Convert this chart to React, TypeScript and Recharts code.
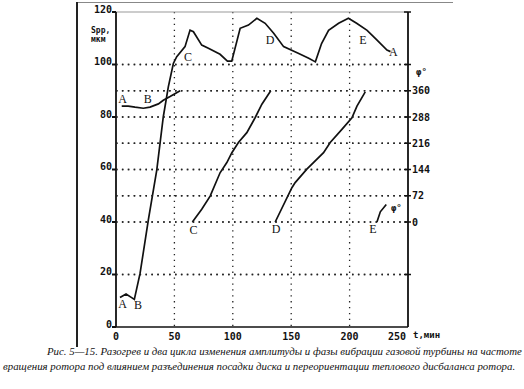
import React from "react";
import {
  ComposedChart,
  Line,
  XAxis,
  YAxis,
  CartesianGrid,
  ReferenceDot,
} from "recharts";

// amplitude S_pp, мкм (left axis) vs t, мин
const amplitude: [number, number][] = [
  [3.4, 11.2], [8.6, 12.6], [13.4, 11.2], [15.7, 10.5], [20.6, 20.4], [27.7, 40.8],
  [34.9, 59.8], [40.5, 80.1], [44.8, 91.5], [49.1, 100.4], [52, 103], [59.1, 106.8],
  [63.4, 113.1], [66.3, 112.5], [73.4, 107.4], [79.1, 106.2], [89.1, 103.9], [95.4, 101.3],
  [99.1, 101.3], [106.3, 113.8], [113.4, 115], [120.6, 117.6], [127.7, 115.7], [135, 111.9],
  [143.5, 106.8], [156, 104.3], [165, 102.4], [170.7, 101], [176, 108], [182, 113],
  [190.6, 115.7], [199, 117.6], [206, 115.7], [215, 113], [223.5, 109.3], [232, 105.5],
  [235, 104.9],
];

// phase φ°, right axis
const phaseAB: [number, number][] = [
  [4.9, 318], [10.5, 318], [16.3, 315], [23.4, 312], [29.1, 315], [36.3, 324],
  [40.5, 334], [46.3, 344], [54.9, 360],
];
const phaseC: [number, number][] = [
  [65.4, 0], [73.4, 35], [80.6, 71], [89.1, 135], [94.9, 163], [99.2, 190],
  [104.8, 218], [112, 245], [119.1, 286], [124.9, 323], [132.5, 360],
];
const phaseD: [number, number][] = [
  [136.3, 0], [150.6, 94], [153.4, 108], [163.4, 145], [177.7, 190], [183.4, 218],
  [193.4, 254], [202, 286], [206.3, 318], [213.4, 357],
];
const phaseE: [number, number][] = [
  [223.4, 0], [226.3, 28], [231.4, 48],
];

const xTicks = [0, 50, 100, 150, 200, 250];
const ampLabels = [0, 20, 40, 60, 80, 100, 120];
const gridY = [20, 40, 50, 60, 70, 80, 90, 100];
const gridX = [50, 100, 150, 200];
const phaseTicks = [-144, 0, 72, 144, 216, 288, 360, 432, 576];
const phaseLabels = [0, 72, 144, 216, 288, 360];

// curve letters, in amplitude-axis units
const letters: { t: number; v: number; text: string }[] = [
  { t: 5.7, v: 86.9, text: "A" },
  { t: 27.2, v: 86.9, text: "B" },
  { t: 61.7, v: 102.9, text: "C" },
  { t: 132, v: 109.3, text: "D" },
  { t: 211.5, v: 109.3, text: "E" },
  { t: 237.4, v: 104.8, text: "A" },
  { t: 5.7, v: 8.8, text: "A" },
  { t: 18.9, v: 8.4, text: "B" },
  { t: 66.3, v: 37, text: "C" },
  { t: 137.1, v: 37.3, text: "D" },
  { t: 220, v: 37.3, text: "E" },
];

const X_MAX = 250;
const Y_MAX = 120;
const W = 524;
const H = 389;
const AXIS_W = 116;
const PLOT_W = W - 2 * AXIS_W;
const DASH = 1.5;
const GAP = 4.4;

const ampTicks = Array.from(new Set([...ampLabels, ...gridY])).sort((a, b) => a - b);

const toRows = (pts: [number, number][], key: string) =>
  pts.map(([t, y]) => ({ t, [key]: y }));

const xGen = (vals: number[]) => (props: any) => {
  const s = props?.xAxis?.scale;
  if (typeof s === "function") return vals.map((v) => s(v));
  const o = props.offset;
  return vals.map((v) => o.left + (v / X_MAX) * o.width);
};

const mono = "'DejaVu Sans Mono', monospace";

// dotted rule as small squares, aligned with the grid's dash pattern
const DotRule = ({ x0, y }: { x0: number; y: number }) => {
  const n = Math.floor(PLOT_W / (DASH + GAP)) + 1;
  return (
    <g>
      {Array.from({ length: n }, (_, i) => (
        <rect key={i} x={x0 + i * (DASH + GAP)} y={y - DASH / 2} width={DASH} height={DASH} fill="#222" />
      ))}
    </g>
  );
};

const LeftTick = (p: any) => {
  const v = p.payload.value;
  const ax = p.x + 4;
  return (
    <g>
      {gridY.includes(v) && <DotRule x0={ax} y={p.y} />}
      {ampLabels.includes(v) && (
        <g>
          <line x1={ax - 4} x2={ax} y1={p.y} y2={p.y} stroke="#111" strokeWidth={2} />
          <text x={p.x} y={p.y - 3} textAnchor="end" dominantBaseline="central"
            fontFamily={mono} fontWeight="bold" fontSize={10} fill="#111">
            {v}
          </text>
        </g>
      )}
    </g>
  );
};

const RightTick = (p: any) => {
  const v = p.payload.value;
  return (
    <g>
      <line x1={p.x - 8} x2={p.x - 1} y1={p.y} y2={p.y} stroke="#111" strokeWidth={1.5} />
      {phaseLabels.includes(v) && (
        <text x={p.x} y={p.y} textAnchor="start" dominantBaseline="central"
          fontFamily={mono} fontWeight="bold" fontSize={10} fill="#111">
          {v}
        </text>
      )}
    </g>
  );
};

const BottomTick = (p: any) => {
  const v = p.payload.value;
  return (
    <text x={p.x + (v === 250 ? -11 : 0)} y={p.y + 9} textAnchor="middle" dominantBaseline="central"
      fontFamily={mono} fontWeight="bold" fontSize={10} fill="#111">
      {v}
    </text>
  );
};

const abs = (left: number, top: number, extra: React.CSSProperties = {}): React.CSSProperties => ({
  position: "absolute", left, top, whiteSpace: "nowrap", ...extra,
});

const caption: React.CSSProperties = {
  fontFamily: "'Liberation Serif', serif", fontStyle: "italic", fontSize: 10.85, color: "#111",
};

export default function App() {
  return (
    <div style={{ position: "absolute", left: 0, top: 0, width: W, height: H, background: "#fff" }}>
      <ComposedChart width={W} height={H} margin={{ top: 12, right: 0, bottom: 0, left: 0 }}>
        <CartesianGrid stroke="#222" strokeWidth={1.3} strokeDasharray="1.3 4.6" horizontal={false}
          verticalCoordinatesGenerator={xGen(gridX)} />
        <CartesianGrid yAxisId="amp" stroke="#222" strokeWidth={DASH} strokeDasharray={`${DASH} ${GAP}`}
          vertical={false} horizontalValues={gridY} />
        <CartesianGrid yAxisId="amp" stroke="#999" strokeWidth={1.2} vertical={false}
          horizontalValues={[Y_MAX]} />
        <XAxis dataKey="t" type="number" domain={[0, X_MAX]} ticks={xTicks} allowDataOverflow
          height={62} tickSize={0} tickMargin={0} tick={<BottomTick />} tickLine={false}
          axisLine={{ stroke: "#111", strokeWidth: 1.6 }} />
        <YAxis yAxisId="amp" domain={[0, Y_MAX]} ticks={ampTicks} width={AXIS_W}
          interval={0} tickSize={4} tickMargin={0} tick={<LeftTick />}
          tickLine={{ stroke: "none" }} axisLine={{ stroke: "#111", strokeWidth: 1.8 }} />
        <YAxis yAxisId="phase" orientation="right" domain={[-288, 576]} ticks={phaseTicks} width={AXIS_W}
          interval={0} tickSize={4} tickMargin={0} tick={<RightTick />}
          tickLine={{ stroke: "none" }} axisLine={{ stroke: "#111", strokeWidth: 1.8 }} />

        <Line yAxisId="amp" data={toRows(amplitude, "v")} dataKey="v" type="linear" dot={false}
          stroke="#111" strokeWidth={1.7} isAnimationActive={false} />
        <Line yAxisId="phase" data={toRows(phaseAB, "p")} dataKey="p" type="linear" dot={false}
          stroke="#111" strokeWidth={1.7} isAnimationActive={false} />
        <Line yAxisId="phase" data={toRows(phaseC, "p")} dataKey="p" type="linear" dot={false}
          stroke="#111" strokeWidth={1.7} isAnimationActive={false} />
        <Line yAxisId="phase" data={toRows(phaseD, "p")} dataKey="p" type="linear" dot={false}
          stroke="#111" strokeWidth={1.7} isAnimationActive={false} />
        <Line yAxisId="phase" data={toRows(phaseE, "p")} dataKey="p" type="linear" dot={false}
          stroke="#111" strokeWidth={1.7} isAnimationActive={false} />

        {letters.map((l, i) => (
          <ReferenceDot key={"l" + i} yAxisId="amp" x={l.t} y={l.v} r={1}
            shape={(p: any) => (
              <text x={p.cx} y={p.cy} textAnchor="middle" dominantBaseline="central"
                fontFamily="'Liberation Serif', serif" fontSize={12} fill="#111">
                {l.text}
              </text>
            )} />
        ))}
        <ReferenceDot yAxisId="amp" x={240} y={45.5} r={1}
          shape={(p: any) => (
            <text x={p.cx} y={p.cy} textAnchor="middle" dominantBaseline="central"
              fontFamily={mono} fontWeight="bold" fontSize={9} fill="#111">
              φ°
            </text>
          )} />
      </ComposedChart>

      <div style={abs(77, 2, { width: 376, height: 1, background: "#888" })} />
      <div style={abs(76, 2, { width: 2, height: 345, background: "#222" })} />
      <div style={abs(91, 26, { fontFamily: mono, fontWeight: "bold", fontSize: 8, lineHeight: "9px", color: "#111" })}>
        Sрр,<br />мкм
      </div>
      <div style={abs(416, 67, { fontFamily: mono, fontWeight: "bold", fontSize: 9, color: "#111" })}>φ°</div>
      <div style={abs(413, 330, { fontFamily: mono, fontWeight: "bold", fontSize: 9, color: "#111" })}>t,мин</div>

      <div style={abs(47, 345, caption)}>
        Рис. 5—15. Разогрев и два цикла изменения амплитуды и фазы вибрации газовой турбины на частоте
      </div>
      <div style={abs(3, 360, caption)}>
        вращения ротора под влиянием разъединения посадки диска и переориентации теплового дисбаланса ротора.
      </div>
    </div>
  );
}
